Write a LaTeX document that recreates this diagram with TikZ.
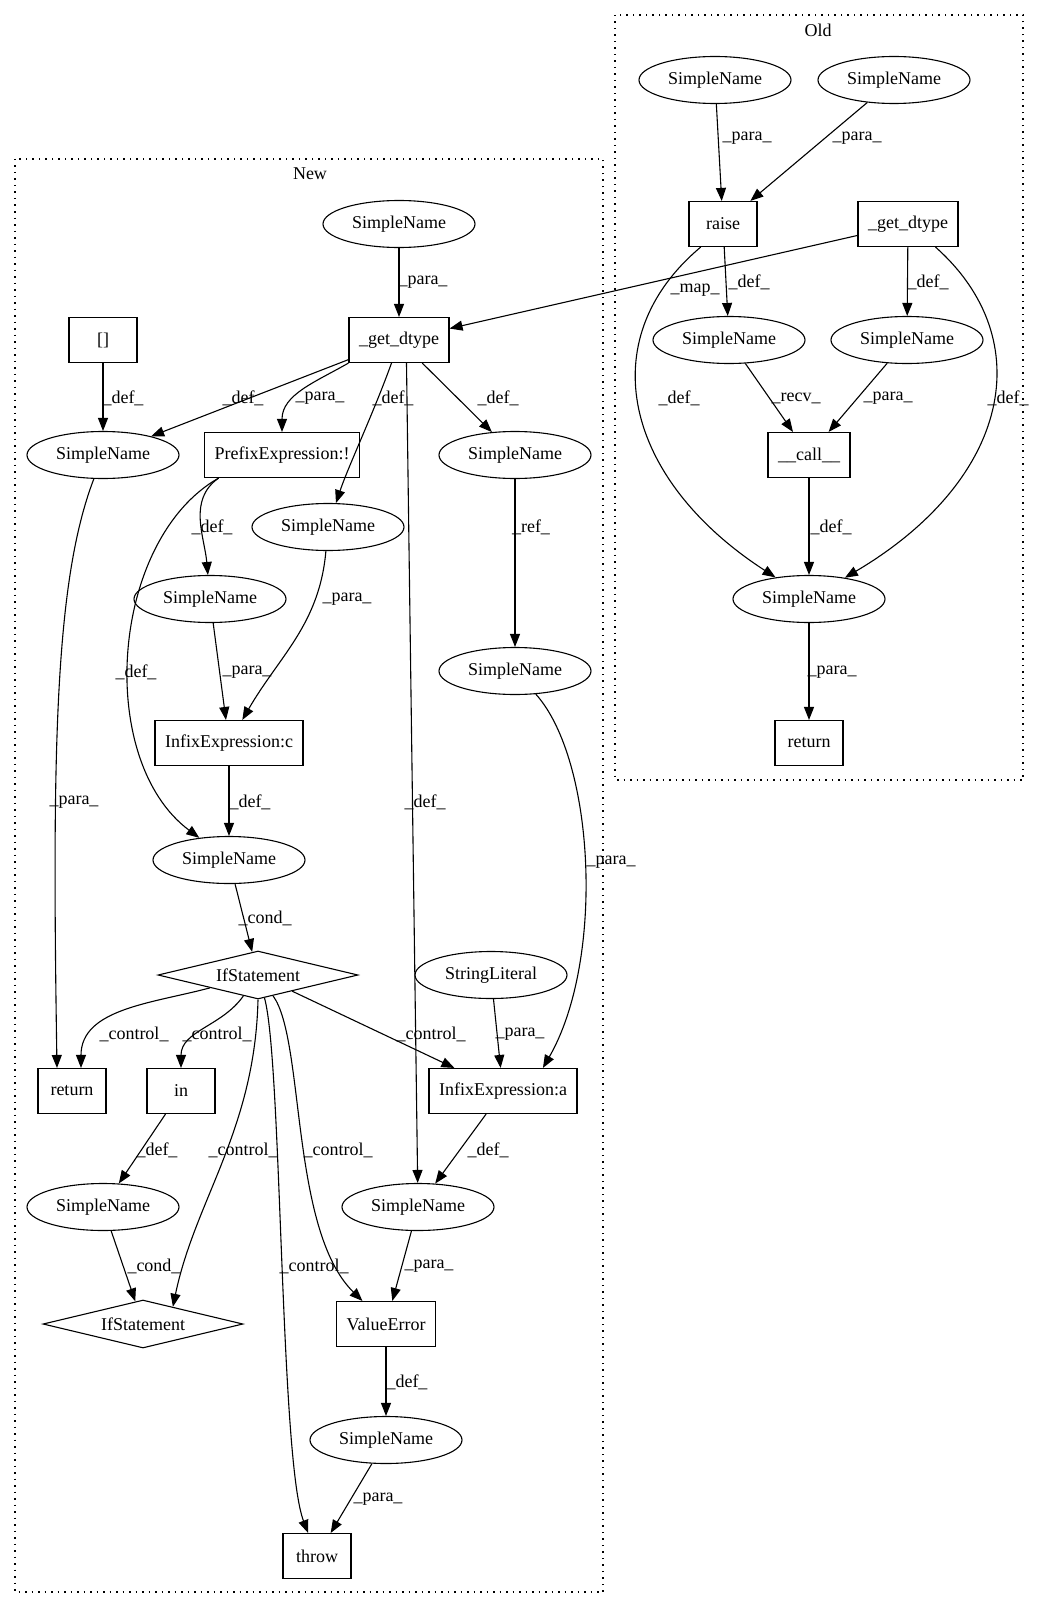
\documentclass[tikz,border=0pt]{standalone}
\usepackage{fontspec}
\setmainfont{Liberation Serif}
\usetikzlibrary{shapes.geometric,arrows.meta,positioning}

\begin{document}
\begin{tikzpicture}[x=1pt, y=1pt,
  every node/.style={font=\fontsize{18}{21}\selectfont},
  sname/.style={draw, ellipse, line width=1.1pt, minimum width=152pt, minimum height=47pt, inner sep=0pt},
  blk/.style={draw, rectangle, line width=1.1pt, minimum width=68pt, minimum height=45pt, inner xsep=10pt},
  cond/.style={draw, diamond, line width=1.1pt, aspect=4, minimum width=200pt, minimum height=48pt, inner sep=0pt},
  arr/.style={-{Triangle[length=13pt,width=10pt]}, line width=1.1pt},
  lbl/.style={inner sep=1pt},
  grp/.style={line width=1.2pt, dash pattern=on 1.5pt off 5pt}
]
\useasboundingbox (0,0) rectangle (1039,-1608);

\draw[grp] (615,-15) rectangle (1023,-780);
\node (oldlbl) at (818,-30) {Old};
\draw[grp] (15,-159) rectangle (603,-1592);
\node (newlbl) at (310,-174) {New};

\node[sname] (osn1) at (715,-80) {SimpleName};
\node[sname] (osn2) at (894,-80) {SimpleName};
\node[blk] (raise) at (723,-224) {raise};
\node[blk] (oget) at (908,-224) {\_get\_dtype};
\node[sname] (osn3) at (729,-340) {SimpleName};
\node[sname] (osn4) at (907,-340) {SimpleName};
\node[blk] (call) at (809,-455) {\_\_call\_\_};
\node[sname] (osn5) at (809,-599) {SimpleName};
\node[blk] (oret) at (809,-743) {return};

\node[sname] (nsn1) at (399,-224) {SimpleName};
\node[blk] (nget) at (399,-340) {\_get\_dtype};
\node[blk] (brk) at (103,-340) {[]};
\node[sname] (nsn2) at (103,-455) {SimpleName};
\node[blk] (prefix) at (282,-455) {PrefixExpression:!};
\node[sname] (nsn4) at (515,-455) {SimpleName};
\node[sname] (nsn3) at (328,-527) {SimpleName};
\node[sname] (nsn5) at (210,-599) {SimpleName};
\node[sname] (nsn6) at (515,-671) {SimpleName};
\node[blk] (infc) at (229,-743) {InfixExpression:c};
\node[sname] (nsn7) at (229,-860) {SimpleName};
\node[cond] (ifst) at (258,-975) {IfStatement};
\node[sname] (strlit) at (491,-975) {StringLiteral};
\node[blk] (nret) at (72,-1091) {return};
\node[blk] (inop) at (181,-1091) {in};
\node[blk] (infa) at (503,-1091) {InfixExpression:a};
\node[sname] (nsn8) at (103,-1207) {SimpleName};
\node[sname] (nsn9) at (418,-1207) {SimpleName};
\node[cond] (ifst2) at (143,-1324) {IfStatement};
\node[blk] (verr) at (386,-1324) {ValueError};
\node[sname] (nsn10) at (386,-1440) {SimpleName};
\node[blk] (throw) at (317,-1556) {throw};

\draw[arr] (osn1) -- (raise) node[lbl, at={(747,-138)}] {\_para\_};
\draw[arr] (osn2) -- (raise) node[lbl, at={(857,-138)}] {\_para\_};
\draw[arr] (raise) -- (osn3) node[lbl, at={(749,-282)}] {\_def\_};
\draw[arr] (raise.226) .. controls (590,-340) and (625,-480) .. (osn5) node[lbl, at={(679,-398)}] {\_def\_};
\draw[arr] (oget) -- (nget) node[lbl, at={(695,-290)}] {\_map\_};
\draw[arr] (oget) -- (osn4) node[lbl, at={(928,-282)}] {\_def\_};
\draw[arr] (oget.320) .. controls (1040,-340) and (1010,-480) .. (osn5) node[lbl, at={(1008,-398)}] {\_def\_};
\draw[arr] (osn3) -- (call) node[lbl, at={(796,-398)}] {\_recv\_};
\draw[arr] (osn4) -- (call) node[lbl, at={(888,-398)}] {\_para\_};
\draw[arr] (call) -- (osn5) node[lbl, at={(831,-527)}] {\_def\_};
\draw[arr] (osn5) -- (oret) node[lbl, at={(832,-672)}] {\_para\_};

\draw[arr] (nsn1) -- (nget) node[lbl, at={(423,-282)}] {\_para\_};
\draw[arr] (brk) -- (nsn2) node[lbl, at={(123,-398)}] {\_def\_};
\draw[arr] (nget) -- (nsn2) node[lbl, at={(243,-398)}] {\_def\_};
\draw[arr] (nget.south west) to[out=210, in=90] (prefix) node[lbl, at={(320,-398)}] {\_para\_};
\draw[arr] (nget.252) .. controls +(-18,-50) and +(20,60) .. (nsn3) node[lbl, at={(393,-398)}] {\_def\_};
\draw[arr] (nget) -- (nsn4) node[lbl, at={(498,-398)}] {\_def\_};
\draw[arr] (nget.288) -- (nsn9) node[lbl, at={(425,-802)}] {\_def\_};
\draw[arr] (nsn4) -- (nsn6) node[lbl, at={(531,-527)}] {\_ref\_};
\draw[arr] (prefix.200) to[out=215, in=95] (nsn5) node[lbl, at={(212,-527)}] {\_def\_};
\draw[arr] (prefix.200) .. controls (110,-540) and (95,-760) .. (nsn7) node[lbl, at={(136,-672)}] {\_def\_};
\draw[arr] (nsn3) to[out=-95, in=60] (infc) node[lbl, at={(347,-599)}] {\_para\_};
\draw[arr] (nsn5) -- (infc) node[lbl, at={(247,-672)}] {\_para\_};
\draw[arr] (nsn2) .. controls (55,-580) and (52,-750) .. ([xshift=-15pt]nret.north) node[lbl, at={(74,-802)}] {\_para\_};
\draw[arr] (nsn6) .. controls (595,-760) and (605,-960) .. (infa.30) node[lbl, at={(611,-862)}] {\_para\_};
\draw[arr] (infc) -- (nsn7) node[lbl, at={(250,-802)}] {\_def\_};
\draw[arr] (nsn7) -- (ifst) node[lbl, at={(265,-918)}] {\_cond\_};
\draw[arr] (ifst) to[out=195, in=90] ([xshift=9pt]nret.north) node[lbl, at={(134,-1034)}] {\_control\_};
\draw[arr] (ifst) to[out=235, in=90] (inop) node[lbl, at={(217,-1034)}] {\_control\_};
\draw[arr] (ifst) -- (infa) node[lbl, at={(431,-1034)}] {\_control\_};
\draw[arr] (strlit) -- (infa) node[lbl, at={(520,-1034)}] {\_para\_};
\draw[arr] (inop) -- (nsn8) node[lbl, at={(157,-1150)}] {\_def\_};
\draw[arr] (ifst.south) .. controls (255,-1130) and (195,-1200) .. (ifst2.30) node[lbl, at={(243,-1150)}] {\_control\_};
\draw[arr] (ifst) .. controls (305,-1040) and (290,-1230) .. (verr) node[lbl, at={(338,-1150)}] {\_control\_};
\draw[arr] (infa) -- (nsn9) node[lbl, at={(488,-1150)}] {\_def\_};
\draw[arr] (nsn8) -- (ifst2) node[lbl, at={(154,-1266)}] {\_cond\_};
\draw[arr] (ifst) .. controls (282,-1060) and (280,-1460) .. (throw) node[lbl, at={(314,-1266)}] {\_control\_};
\draw[arr] (nsn9) -- (verr) node[lbl, at={(429,-1266)}] {\_para\_};
\draw[arr] (verr) -- (nsn10) node[lbl, at={(407,-1382)}] {\_def\_};
\draw[arr] (nsn10) -- (throw) node[lbl, at={(378,-1499)}] {\_para\_};
\end{tikzpicture}
\end{document}
